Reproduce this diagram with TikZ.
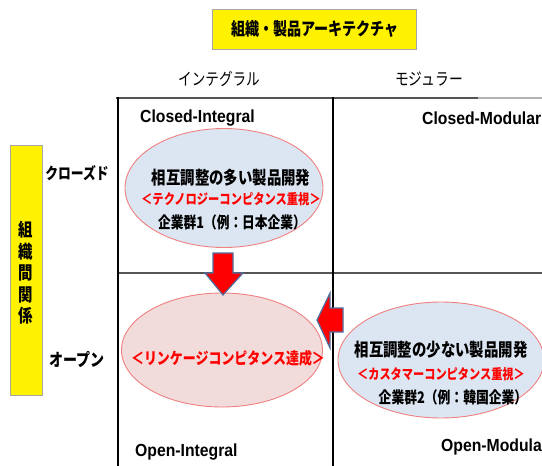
\documentclass[tikz,border=0pt]{standalone}
\usepackage{fontspec}
\setmainfont{Liberation Sans}
\newfontfamily\jp{Noto Sans CJK JP}[FakeStretch=0.8]
\newfontfamily\lat{Liberation Sans}[FakeStretch=0.9]
\usetikzlibrary{shapes.geometric}
\definecolor{ellblue}{HTML}{DCE6F2}
\definecolor{ellpink}{HTML}{F2DCDB}
\definecolor{ellline}{HTML}{F08080}
\definecolor{arrline}{HTML}{4F6F9F}
\definecolor{jred}{HTML}{FF0000}
\definecolor{gridgray}{HTML}{555555}
\newcommand{\fs}[1]{\fontsize{#1}{#1}\selectfont}
\tikzset{
  jtext/.style={font=\jp\bfseries, inner sep=0pt},
  jred/.style={jtext, text=jred},
  ltext/.style={font=\lat\bfseries\fs{17.5}, inner sep=0pt},
  ybox/.style={fill=yellow, draw=gray!70, line width=0.8pt},
  ell/.style={ellipse, draw=ellline, line width=0.9pt, inner sep=0pt},
  barrow/.style={fill=red, draw=arrline, line width=1.2pt, line join=miter},
  gridh/.style={draw=gridgray, line width=2.6pt},
  gridv/.style={draw=black, line width=1.2pt}
}
\begin{document}
\begin{tikzpicture}[x=1pt,y=-1pt]
\useasboundingbox (0,0) rectangle (542,466);
% top title box
\draw[ybox] (212,9) rectangle (416,49);
\node[jtext, font=\jp\bfseries\fs{17.6}] (title) at (315,29) {組織・製品アーキテクチャ};
% column headers
\node[jtext, font=\jp\fs{17}] (colI) at (219,79) {インテグラル};
\node[jtext, font=\jp\fs{17.2}] (colM) at (429,79) {モジュラー};
% left box
\draw[ybox] (10,145) rectangle (42,395);
\node[jtext, font=\jp\bfseries\fontsize{18}{21.5}\selectfont, align=center] (rowlab) at (26,273) {組\\織\\間\\関\\係};
\node[jtext, font=\jp\bfseries\fs{16}] (closed) at (77,173) {クローズド};
\node[jtext, font=\jp\bfseries\fs{17.5}] (open) at (77,360) {オープン};
% grid
\draw[gridh] (116,98) -- (542,98);
\draw[draw=gray!60, line width=2.6pt] (478,98) -- (542,98);
\draw[gridh] (118,273) -- (542,273);
\draw[gridv] (118,97) -- (118,466);
\draw[gridv] (333,97) -- (333,466);
% quadrant labels
\node[ltext, anchor=west] (ci) at (140,118) {Closed-Integral};
\node[ltext, anchor=west] (cm) at (422,118) {Closed-Modular};
\node[ltext, anchor=west] (oi) at (135,452) {Open-Integral};
\node[ltext, anchor=west] (om) at (441,447) {Open-Modular};
% ellipse 1
\node[ell, fill=ellblue, minimum width=198pt, minimum height=119pt] (e1) at (224,188) {};
\node[jtext, font=\jp\bfseries\fs{18}] (e1a) at (231,178) {相互調整の多い製品開発};
\node[jred, font=\jp\bfseries\fs{14.1}] (e1b) at (231,199) {＜テクノロジーコンピタンス重視＞};
\node[jtext, font=\jp\bfseries\fs{15.9}] (e1c) at (232,222) {企業群1（例：日本企業）};
% ellipse 2
\node[ell, fill=ellpink, minimum width=201pt, minimum height=114pt] (e2) at (222,350) {};
\node[jred, font=\jp\bfseries\fs{16.2}] (e2a) at (228,358) {＜リンケージコンピタンス達成＞};
% ellipse 3
\node[ell, fill=ellblue, minimum width=206pt, minimum height=116pt] (e3) at (441,360) {};
\node[jtext, font=\jp\bfseries\fs{18}] (e3a) at (441,350) {相互調整の少ない製品開発};
\node[jred, font=\jp\bfseries\fs{14}] (e3b) at (441,374) {＜カスタマーコンピタンス重視＞};
\node[jtext, font=\jp\bfseries\fs{16}] (e3c) at (453,397) {企業群2（例：韓国企業）};
% arrows
\draw[barrow] (213,253) -- (233,253) -- (233,273) -- (243,273) -- (223,295) -- (205,273) -- (213,273) -- cycle;
\draw[barrow] (343,308) -- (343,332) -- (330,332) -- (330,348) -- (317,320) -- (330,293) -- (330,308) -- cycle;
\end{tikzpicture}
\end{document}
